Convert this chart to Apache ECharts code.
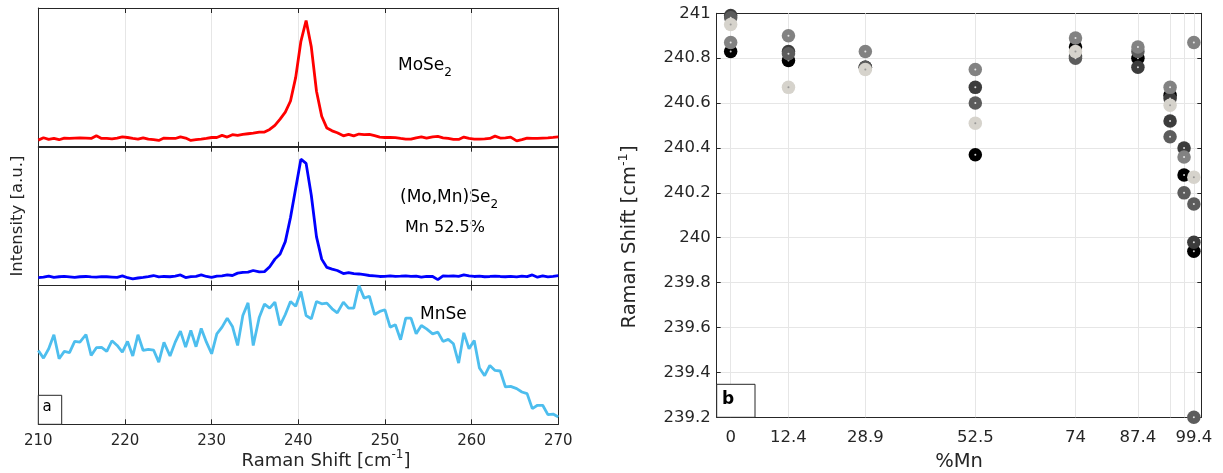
<!DOCTYPE html>
<html><head><meta charset="utf-8">
<script src="https://cdn.jsdelivr.net/npm/echarts@6/dist/echarts.min.js"></script>
<style>html,body{margin:0;padding:0;background:#fff}#c{width:1223px;height:473px}</style>
</head><body><div id="c"></div>
<script>
// ---------- Panel a: Raman spectra ----------
const shift = [210.0,210.6,211.2,211.8,212.4,213.0,213.6,214.2,214.8,215.5,216.1,216.7,217.3,217.9,218.5,219.1,219.7,220.3,220.9,221.5,
222.1,222.7,223.3,223.9,224.5,225.2,225.8,226.4,227.0,227.6,228.2,228.8,229.4,230.0,230.6,231.2,231.8,232.4,233.0,233.6,
234.2,234.8,235.5,236.1,236.7,237.3,237.9,238.5,239.1,239.7,240.3,240.9,241.5,242.1,242.7,243.3,243.9,244.5,245.2,245.8,
246.4,247.0,247.6,248.2,248.8,249.4,250.0,250.6,251.2,251.8,252.4,253.0,253.6,254.2,254.8,255.5,256.1,256.7,257.3,257.9,
258.5,259.1,259.7,260.3,260.9,261.5,262.1,262.7,263.3,263.9,264.5,265.2,265.8,266.4,267.0,267.6,268.2,268.8,269.4,270.0];
const moSe2 = [4.8,6.5,5.3,6.0,5.1,6.3,6.0,6.3,6.5,6.3,6.0,8.0,6.0,6.0,5.7,6.3,7.2,6.7,6.0,5.5,
6.5,5.5,5.1,4.6,6.3,6.0,6.0,7.2,6.3,4.6,5.1,5.5,6.0,6.7,6.7,8.2,7.0,8.7,8.2,8.9,
9.4,9.9,10.6,10.6,12.5,15.5,20,25,33,50,76,91,72,40,22,13.5,11.5,10.1,7.9,9.0,
7.9,9.2,8.7,9.0,8.0,7.0,6.7,6.7,6.6,6.0,5.5,5.5,6.5,7.1,6.2,7.2,7.5,6.5,6.0,5.3,
5.3,7.0,6.0,5.6,5.5,5.7,6.0,7.7,6.3,6.5,7.0,4.3,5.2,6.3,6.0,6.1,6.3,6.5,6.8,7.2];
const moMnSe2 = [5.6,6.0,6.8,5.9,6.3,6.6,6.2,5.8,6.3,6.5,6.2,6.0,6.4,6.3,6.1,5.9,6.9,5.6,4.8,5.4,
5.8,6.4,7.2,6.2,6.5,6.3,6.8,7.6,5.7,6.4,6.6,7.6,6.5,5.9,6.8,7.0,7.6,7.2,8.9,9.5,
9.6,10.8,9.8,10.0,13.5,19.0,22.7,31.6,49,70,91,88,65,35,19,13,11.8,10.8,8.6,9.3,
8.5,8.3,7.8,7.2,6.9,6.5,6.6,6.9,6.6,6.7,7.0,6.5,6.8,6.0,6.6,6.5,4.2,6.9,6.8,7.0,
6.6,7.6,6.9,6.5,6.7,6.3,6.5,6.8,6.5,6.3,6.6,6.2,6.8,6.4,7.6,6.0,6.9,6.2,6.5,7.2];
const mnSe = [53.2,47.7,54.4,64.5,47.2,52.5,51.6,59.7,59.2,64.7,49.6,55.2,55.4,52.5,60.2,56.8,52.0,59.7,49.2,64.5,
53.2,54.0,53.5,44.8,59.0,49.2,59.2,67.1,55.6,67.6,55.9,69.1,59.2,50.8,65.2,70.0,76.5,70.5,56.8,78.4,
87.5,56.8,77.2,86.6,83.7,88.0,71.2,79.1,88.5,85.1,95.7,78.4,76.0,88.5,86.8,87.3,83.2,80.3,88.0,83.7,
83.7,100,90.9,92.3,79.1,81.3,82.5,70.0,71.7,60.9,76.5,76.5,65.2,71.2,68.8,65.2,66.4,59.7,61.2,58.0,
44.1,65.9,54.4,60.4,40.5,35.0,42.4,38.8,38.4,26.9,27.3,25.7,23.3,22.1,11.3,13.7,13.7,7.0,7.4,5.3];

// ---------- Panel b: peak position vs %Mn ----------
const mnTicks = [0,12.4,28.9,52.5,74,87.4,94.3,97.3,99.4];
const mnTickLabels = [0,12.4,28.9,52.5,74,87.4,99.4];
const blackX = [0,12.4,28.9,52.5,74,87.4,94.3,97.3,99.4];
const blackY = [240.83,240.79,240.76,240.37,240.85,240.80,240.635,240.28,239.94];
const darkX = [0,12.4,52.5,74,87.4,94.3,94.3,97.3,99.4];
const darkY = [240.99,240.83,240.67,240.81,240.76,240.62,240.52,240.40,239.98];
const midX = [0,12.4,28.9,52.5,74,87.4,94.3,97.3,99.4,99.4];
const midY = [240.98,240.82,240.76,240.60,240.80,240.83,240.45,240.20,240.15,239.20];
const grayX = [0,12.4,28.9,52.5,74,87.4,94.3,97.3,99.4];
const grayY = [240.87,240.90,240.83,240.75,240.89,240.85,240.67,240.36,240.87];
const lightX = [0,12.4,28.9,52.5,74,94.3,99.4];
const lightY = [240.95,240.67,240.75,240.51,240.83,240.59,240.27];

const FONT = 'DejaVu Sans';
const AX = '#262626';
const GRIDC = '#e6e6e6';

const chart = echarts.init(document.getElementById('c'), null, {renderer:'canvas'});

const panelTops = [8, 146.7, 285.5];
const panelH = 138.8;
const grids = panelTops.map(t => ({left:38.3, top:t, width:520, height:panelH, outerBoundsMode:'none', containLabel:false}));
grids.push({left:716.7, top:13.3, width:484.6, height:404, outerBoundsMode:'none', containLabel:false});

const xAxes = [], yAxes = [];
for (let i = 0; i < 3; i++) {
  xAxes.push({type:'value', gridIndex:i, min:210, max:270, interval:10, position:'bottom',
    axisLine:{show:true, onZero:false, lineStyle:{color:AX, width:1}},
    axisTick:{show:true, inside:true, length:5, lineStyle:{color:AX}},
    axisLabel:{show:i===2, fontFamily:FONT, fontSize:15, color:AX, margin:9},
    splitLine:{show:true, lineStyle:{color:GRIDC, width:1}}
  });
  xAxes.push({type:'value', gridIndex:i, min:210, max:270, interval:10, position:'top',
    axisLine:{show:true, onZero:false, lineStyle:{color:AX, width:1}},
    axisTick:{show:true, inside:true, length:5, lineStyle:{color:AX}},
    axisLabel:{show:false}, splitLine:{show:false}});
  yAxes.push({type:'value', gridIndex:i, min:0, max:100, position:'left',
    axisLine:{show:true, onZero:false, lineStyle:{color:AX, width:1}},
    axisTick:{show:false}, axisLabel:{show:false}, splitLine:{show:false},
    name: i===1 ? 'Intensity [a.u.]' : '', nameLocation:'middle', nameGap:12,
    nameTextStyle:{fontFamily:FONT, fontSize:16.5, color:AX}});
  yAxes.push({type:'value', gridIndex:i, min:0, max:100, position:'right',
    axisLine:{show:true, onZero:false, lineStyle:{color:AX, width:1}},
    axisTick:{show:false}, axisLabel:{show:false}, splitLine:{show:false}});
}
const fmt = v => String(+(+v).toFixed(1));
xAxes.push({type:'value', gridIndex:3, min:-3, max:101, position:'bottom',
  axisLine:{show:true, onZero:false, lineStyle:{color:AX, width:1}},
  axisTick:{show:true, inside:true, length:4, lineStyle:{color:AX}, customValues:mnTicks},
  axisLabel:{show:true, fontFamily:FONT, fontSize:16.5, color:AX, margin:12, customValues:mnTickLabels, formatter:fmt},
  splitLine:{show:false},
  name:'%Mn', nameLocation:'middle', nameGap:35,
  nameTextStyle:{fontFamily:FONT, fontSize:19.5, color:AX}});
xAxes.push({type:'value', gridIndex:3, min:-3, max:101, position:'top',
  axisLine:{show:true, onZero:false, lineStyle:{color:AX, width:1}},
  axisTick:{show:true, inside:true, length:4, lineStyle:{color:AX}, customValues:mnTicks},
  axisLabel:{show:false}, splitLine:{show:false}});
yAxes.push({type:'value', gridIndex:3, min:239.2, max:241, interval:0.2, position:'left',
  axisLine:{show:true, onZero:false, lineStyle:{color:AX, width:1}},
  axisTick:{show:true, inside:true, length:4, lineStyle:{color:AX}},
  axisLabel:{show:true, fontFamily:FONT, fontSize:16.5, color:AX, margin:6, formatter:fmt},
  splitLine:{show:true, lineStyle:{color:GRIDC, width:1}}});
yAxes.push({type:'value', gridIndex:3, min:239.2, max:241, interval:0.2, position:'right',
  axisLine:{show:true, onZero:false, lineStyle:{color:AX, width:1}},
  axisTick:{show:true, inside:true, length:4, lineStyle:{color:AX}},
  axisLabel:{show:false}, splitLine:{show:false}});

const pairs = (xs, ys) => xs.map((x, i) => [x, ys[i]]);
const spec = (ys) => shift.map((x, i) => [x, ys[i]]);

const lineSeries = (data, color, idx) => ({type:'line', data, xAxisIndex:idx, yAxisIndex:idx,
  showSymbol:false, symbol:'none', lineStyle:{color, width:2.8}, itemStyle:{color}, animation:false, z:3, clip:false});

const groups = [
  [blackX, blackY, '#000000', '#ffffff'],
  [darkX, darkY, '#3c3c3c', '#ffffff'],
  [midX, midY, '#5c5c5c', '#ffffff'],
  [grayX, grayY, '#828282', '#ffffff'],
  [lightX, lightY, '#d6d3cc', '#8a8a8a']
];
const scatterSeries = [];
groups.forEach(([xs, ys, c, dot], gi) => {
  const d = pairs(xs, ys);
  const s = {type:'scatter', data:d, xAxisIndex:6, yAxisIndex:6, symbol:'circle', symbolSize:13.5,
    itemStyle:{color:c, opacity:1}, animation:false, clip:false, z:3};
  if (gi === 0) {
    s.markLine = {silent:true, symbol:'none', z:1, animation:false, label:{show:false},
      lineStyle:{color:GRIDC, width:1, type:'solid'}, emphasis:{disabled:true},
      data: mnTicks.map(v => ({xAxis:v}))};
  }
  scatterSeries.push(s);
  scatterSeries.push({type:'scatter', data:d, xAxisIndex:6, yAxisIndex:6, symbol:'circle', symbolSize:2,
    itemStyle:{color:dot}, animation:false, clip:false, z:3});
});

const txt = (left, top, rich, text) => ({type:'text', left, top, silent:true,
  style:{text, rich}});
const richMain = {a:{fontFamily:FONT, fontSize:17, fill:'#000', lineHeight:26}, s:{fontFamily:FONT, fontSize:12, fill:'#000', verticalAlign:'bottom', lineHeight:12}};

chart.setOption({
  animation:false,
  backgroundColor:'#ffffff',
  grid: grids,
  xAxis: xAxes,
  yAxis: yAxes,
  series: [
    lineSeries(spec(moSe2), '#ff0000', 0),
    lineSeries(spec(moMnSe2), '#0000ff', 2),
    lineSeries(spec(mnSe), '#4dbeee', 4),
    ...scatterSeries
  ],
  graphic: [
    txt(398, 57, richMain, '{a|MoSe}{s|2}'),
    txt(400, 189.5, richMain, '{a|(Mo,Mn)Se}{s|2}'),
    {type:'text', left:405, top:220, silent:true, style:{text:'Mn 52.5%', fontFamily:FONT, fontSize:16, fill:'#000'}},
    {type:'text', left:420, top:306, silent:true, style:{text:'MnSe', fontFamily:FONT, fontSize:17, fill:'#000'}},
    {type:'text', x:326, y:461, silent:true,
      style:{text:'{a|Raman Shift [cm}{s|-1}{a|]}', align:'center', verticalAlign:'middle',
        rich:{a:{fontFamily:FONT, fontSize:18, fill:AX, lineHeight:24}, s:{fontFamily:FONT, fontSize:12, fill:AX, verticalAlign:'top', lineHeight:12}}}},
    {type:'text', x:630, y:237, rotation:Math.PI/2, silent:true,
      style:{text:'{a|Raman Shift [cm}{s|-1}{a|]}', align:'center', verticalAlign:'middle',
        rich:{a:{fontFamily:FONT, fontSize:19.5, fill:AX, lineHeight:26}, s:{fontFamily:FONT, fontSize:13, fill:AX, verticalAlign:'top', lineHeight:13}}}},
    {type:'rect', shape:{x:38.3, y:395.3, width:23.4, height:29}, style:{fill:'#fff', stroke:AX, lineWidth:1}, z:100},
    {type:'text', left:42.5, top:400, silent:true, style:{text:'a', fontFamily:FONT, fontSize:15, fill:'#000'}, z:101},
    {type:'rect', shape:{x:716.7, y:384.3, width:38.3, height:33}, style:{fill:'#fff', stroke:AX, lineWidth:1}, z:100},
    {type:'text', left:722, top:391, silent:true, style:{text:'b', fontFamily:FONT, fontSize:17, fontWeight:'bold', fill:'#000'}, z:101}
  ]
});
</script>
</body></html>
